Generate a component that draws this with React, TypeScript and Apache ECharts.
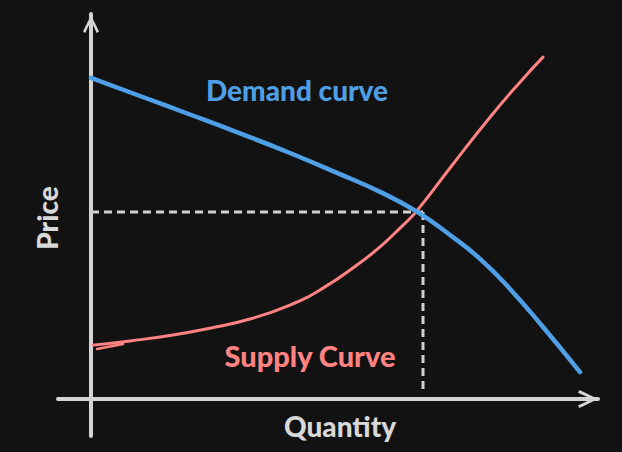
import React, { useEffect, useRef } from "react";
import * as echarts from "echarts";

// Demand curve (quantity, price)
const demandQuantity = [0, 0.98, 1.98, 2.98, 3.98, 4.98, 5.78, 6.5, 7.18, 7.78, 8.38, 9.04, 9.78];
const demandPrice = [8.34, 7.87, 7.39, 6.9, 6.39, 5.84, 5.38, 4.88, 4.26, 3.64, 2.86, 1.87, 0.7];

// Supply curve
const supplyQuantity = [0.04, 0.78, 1.58, 2.38, 3.18, 3.98, 4.64, 5.32, 5.78, 6.18, 6.5, 7.18, 7.98, 8.58, 9.04];
const supplyPrice = [1.4, 1.51, 1.65, 1.84, 2.08, 2.44, 2.88, 3.48, 3.95, 4.44, 4.86, 6.0, 7.32, 8.23, 8.88];

// Small hand-drawn double stroke at the start of the supply curve
const supplySketchQuantity = [0.12, 0.64];
const supplySketchPrice = [1.3, 1.43];

// Equilibrium guide lines
const equilibriumQuantity = 6.64;
const equilibriumPrice = 4.86;
const guideStartQuantity = 0;
const guideFloorPrice = 0.23;

// Axis ranges
const quantityRange = [-0.66, 10.14];
const priceRange = [-0.96, 10];

const labels = {
  demand: "Demand curve",
  supply: "Supply Curve",
  x: "Quantity",
  y: "Price",
};

const BG = "#121212";
const AXIS = "#d4d4d4";
const TEXT = "#d8d8d8";
const BLUE = "#4f9fe6";
const RED = "#ff8383";
const FONT = "Lato";

const zip = (a: number[], b: number[]) => a.map((v, i) => [v, b[i]]);

const chevron = "path://M9,0 L18,18.5 L15.4,20 L9,6.2 L2.6,20 L0,18.5 Z";

export default function App() {
  const ref = useRef<HTMLDivElement>(null);
  useEffect(() => {
    if (!ref.current) return;
    const chart = echarts.init(ref.current, undefined, { renderer: "svg" });
    const axisCommon = {
      type: "value" as const,
      axisTick: { show: false },
      axisLabel: { show: false },
      splitLine: { show: false },
    };
    const textStyle = (text: string, fill: string, size: number) => ({
      text,
      fill,
      font: `900 ${size}px ${FONT}`,
      textAlign: "center",
      textVerticalAlign: "middle",
    });
    chart.setOption({
      animation: false,
      backgroundColor: BG,
      grid: { left: 58, right: 24, top: 14, bottom: 16, containLabel: false, outerBoundsMode: "none" },
      xAxis: {
        ...axisCommon,
        min: quantityRange[0],
        max: quantityRange[1],
        axisLine: {
          onZero: true,
          lineStyle: { color: AXIS, width: 4 },
          symbol: ["none", chevron],
          symbolSize: [18, 20],
          symbolOffset: [0, -10],
        },
      },
      yAxis: {
        ...axisCommon,
        min: priceRange[0],
        max: priceRange[1],
        axisLine: {
          onZero: true,
          lineStyle: { color: AXIS, width: 4 },
          symbol: ["none", chevron],
          symbolSize: [16, 20],
          symbolOffset: [0, -10],
        },
      },
      series: [
        {
          name: "Equilibrium price",
          type: "line",
          data: [
            [guideStartQuantity, equilibriumPrice],
            [equilibriumQuantity, equilibriumPrice],
          ],
          symbol: "none",
          lineStyle: { color: "#d0d0d0", width: 3, type: [8, 5] },
          z: 1,
        },
        {
          name: "Equilibrium quantity",
          type: "line",
          data: [
            [equilibriumQuantity, equilibriumPrice],
            [equilibriumQuantity, guideFloorPrice],
          ],
          symbol: "none",
          lineStyle: { color: "#d0d0d0", width: 3, type: [8, 5] },
          z: 1,
        },
        {
          name: "Supply",
          type: "line",
          data: zip(supplyQuantity, supplyPrice),
          smooth: 0.5,
          symbol: "none",
          lineStyle: { color: RED, width: 3, cap: "round" },
          z: 2,
        },
        {
          name: "Supply sketch",
          type: "line",
          data: zip(supplySketchQuantity, supplySketchPrice),
          symbol: "none",
          lineStyle: { color: RED, width: 2.5, cap: "round" },
          z: 2,
        },
        {
          name: "Demand",
          type: "line",
          data: zip(demandQuantity, demandPrice),
          smooth: 0.5,
          symbol: "none",
          lineStyle: { color: BLUE, width: 4.5, cap: "round" },
          z: 3,
        },
      ],
      graphic: [
        { type: "text", x: 297, y: 90, style: textStyle(labels.demand, BLUE, 28) },
        { type: "text", x: 310, y: 355, style: textStyle(labels.supply, RED, 29) },
        { type: "text", x: 340, y: 426, style: textStyle(labels.x, TEXT, 28) },
        { type: "text", x: 47, y: 218, rotation: Math.PI / 2, style: textStyle(labels.y, TEXT, 28) },
      ],
    });
    return () => chart.dispose();
  }, []);
  return (
    <div
      ref={ref}
      style={{ position: "fixed", left: 0, top: 0, width: 622, height: 452, background: BG }}
    />
  );
}
